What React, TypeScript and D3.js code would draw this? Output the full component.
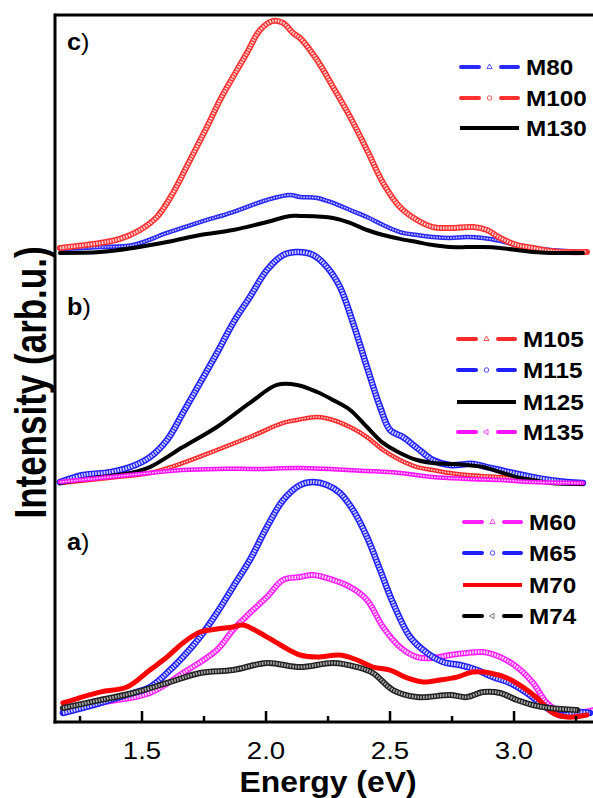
import React from 'react';
import * as d3 from 'd3';

type Pt = [number, number];

const energyTicks = [1.25, 1.5, 1.75, 2.0, 2.25, 2.5, 2.75, 3.0, 3.25];
const majorTicks = [1.5, 2.0, 2.5, 3.0];
const panelNames = ['a', 'b', 'c'];
const panelOffsets = [0, 1, 2];

// Panel c
const m100: Pt[] = [[1.169,0.022],[1.331,0.044],[1.411,0.062],[1.492,0.101],[1.56,0.158],[1.625,0.264],[1.694,0.409],[1.762,0.554],[1.815,0.673],[1.867,0.774],[1.923,0.879],[1.976,0.98],[2.028,1.02],[2.069,1.011],[2.109,0.967],[2.137,0.945],[2.206,0.848],[2.27,0.73],[2.339,0.598],[2.407,0.453],[2.472,0.308],[2.54,0.202],[2.609,0.145],[2.673,0.114],[2.742,0.11],[2.835,0.114],[2.891,0.101],[2.944,0.066],[3.012,0.035],[3.077,0.022],[3.145,0.009],[3.214,0.004],[3.294,0.004]];
const m80: Pt[] = [[1.169,0.018],[1.331,0.026],[1.464,0.035],[1.601,0.088],[1.734,0.136],[1.867,0.18],[2.004,0.233],[2.097,0.255],[2.137,0.246],[2.206,0.242],[2.27,0.22],[2.339,0.189],[2.407,0.158],[2.472,0.123],[2.54,0.092],[2.609,0.079],[2.673,0.07],[2.742,0.066],[2.81,0.07],[2.875,0.066],[2.944,0.053],[3.012,0.035],[3.145,0.013],[3.294,0.004]];
const m130: Pt[] = [[1.169,0.0],[1.331,0.004],[1.464,0.022],[1.601,0.048],[1.734,0.079],[1.867,0.101],[2.004,0.136],[2.097,0.163],[2.137,0.163],[2.27,0.154],[2.339,0.132],[2.407,0.101],[2.472,0.079],[2.54,0.062],[2.609,0.048],[2.673,0.035],[2.742,0.026],[2.81,0.026],[2.875,0.026],[2.944,0.022],[3.077,0.004],[3.145,0.0],[3.278,0.0]];
// Panel b
const m105: Pt[] = [[1.169,-0.011],[1.399,0.015],[1.532,0.033],[1.665,0.077],[1.802,0.134],[1.935,0.191],[2.069,0.253],[2.125,0.266],[2.206,0.279],[2.27,0.266],[2.339,0.235],[2.407,0.191],[2.472,0.134],[2.54,0.09],[2.609,0.059],[2.673,0.046],[2.742,0.033],[2.81,0.024],[2.944,0.015],[3.077,0.002],[3.214,-0.011],[3.278,-0.011]];
const m115: Pt[] = [[1.169,-0.007],[1.262,0.024],[1.371,0.037],[1.452,0.059],[1.532,0.103],[1.601,0.178],[1.665,0.297],[1.734,0.429],[1.802,0.56],[1.867,0.692],[1.935,0.807],[2.004,0.925],[2.069,0.991],[2.125,1.004],[2.19,0.991],[2.246,0.938],[2.298,0.851],[2.351,0.692],[2.407,0.499],[2.46,0.323],[2.5,0.222],[2.552,0.191],[2.609,0.143],[2.673,0.09],[2.742,0.068],[2.835,0.073],[2.891,0.059],[2.944,0.046],[3.077,0.015],[3.214,-0.007],[3.278,-0.011]];
const m125: Pt[] = [[1.169,-0.011],[1.331,0.015],[1.452,0.033],[1.532,0.059],[1.665,0.147],[1.802,0.235],[1.935,0.341],[2.044,0.42],[2.125,0.42],[2.206,0.389],[2.27,0.354],[2.339,0.31],[2.407,0.235],[2.472,0.165],[2.54,0.121],[2.609,0.09],[2.673,0.077],[2.742,0.073],[2.81,0.068],[2.875,0.059],[2.944,0.037],[3.012,0.015],[3.077,0.002],[3.145,-0.011],[3.278,-0.015]];
const m135: Pt[] = [[1.169,-0.007],[1.331,0.011],[1.532,0.033],[1.665,0.046],[1.802,0.051],[1.976,0.051],[2.137,0.055],[2.407,0.042],[2.54,0.033],[2.673,0.015],[2.81,0.007],[2.944,0.002],[3.077,-0.007],[3.278,-0.011]];
// Panel a
const m60: Pt[] = [[1.181,-0.018],[1.331,0.022],[1.532,0.066],[1.665,0.154],[1.802,0.255],[1.867,0.343],[1.935,0.418],[2.004,0.488],[2.069,0.563],[2.137,0.576],[2.19,0.585],[2.27,0.563],[2.339,0.532],[2.407,0.475],[2.472,0.356],[2.54,0.268],[2.609,0.224],[2.673,0.22],[2.742,0.233],[2.81,0.242],[2.875,0.246],[2.944,0.224],[3.012,0.18],[3.077,0.11],[3.133,0.022],[3.198,-0.022],[3.278,-0.018],[3.319,-0.009]];
const m65: Pt[] = [[1.181,-0.022],[1.331,0.022],[1.464,0.066],[1.532,0.092],[1.601,0.154],[1.665,0.224],[1.734,0.312],[1.802,0.418],[1.867,0.532],[1.935,0.651],[2.004,0.796],[2.069,0.914],[2.137,0.98],[2.19,0.993],[2.246,0.98],[2.298,0.945],[2.351,0.87],[2.407,0.752],[2.46,0.607],[2.512,0.462],[2.581,0.312],[2.649,0.242],[2.714,0.202],[2.782,0.189],[2.851,0.167],[2.915,0.136],[2.984,0.11],[3.052,0.066],[3.105,0.022],[3.185,-0.031],[3.254,-0.018],[3.306,-0.022]];
const m70: Pt[] = [[1.181,0.022],[1.331,0.07],[1.44,0.092],[1.532,0.167],[1.601,0.224],[1.665,0.286],[1.734,0.334],[1.802,0.347],[1.867,0.356],[1.907,0.365],[1.976,0.33],[2.044,0.286],[2.109,0.246],[2.137,0.233],[2.206,0.224],[2.298,0.233],[2.367,0.211],[2.431,0.18],[2.5,0.167],[2.569,0.132],[2.633,0.114],[2.702,0.123],[2.77,0.136],[2.835,0.158],[2.903,0.154],[2.972,0.132],[3.036,0.092],[3.093,0.044],[3.157,-0.022],[3.214,-0.04],[3.294,-0.031]];
const m74: Pt[] = [[1.181,0.0],[1.331,0.035],[1.464,0.066],[1.601,0.11],[1.734,0.154],[1.867,0.167],[2.004,0.198],[2.137,0.18],[2.27,0.198],[2.367,0.18],[2.431,0.154],[2.512,0.079],[2.609,0.048],[2.742,0.057],[2.81,0.048],[2.875,0.07],[2.944,0.066],[3.012,0.035],[3.077,0.013],[3.145,0.0],[3.254,-0.009]];

type Sym = 'none' | 'circle' | 'tri' | 'left';
interface Series { name: string; data: Pt[]; panel: number; color: string; inner: string; kind: 'solid' | 'open'; sym: Sym; w: number }

const seriesList: Series[] = [
  { name: 'M80', data: m80, panel: 2, color: '#2a2aff', inner: '#c8c8ff', kind: 'open', sym: 'tri', w: 4.5 },
  { name: 'M100', data: m100, panel: 2, color: '#ff3030', inner: '#ffd0d0', kind: 'open', sym: 'circle', w: 6 },
  { name: 'M130', data: m130, panel: 2, color: '#000000', inner: '', kind: 'solid', sym: 'none', w: 4 },
  { name: 'M105', data: m105, panel: 1, color: '#ff2a2a', inner: '#ffd0d0', kind: 'open', sym: 'tri', w: 4.5 },
  { name: 'M115', data: m115, panel: 1, color: '#2020ff', inner: '#d0d0ff', kind: 'open', sym: 'circle', w: 6.5 },
  { name: 'M125', data: m125, panel: 1, color: '#000000', inner: '', kind: 'solid', sym: 'none', w: 4 },
  { name: 'M135', data: m135, panel: 1, color: '#ff10ff', inner: '#ffd0ff', kind: 'open', sym: 'left', w: 4.5 },
  { name: 'M60', data: m60, panel: 0, color: '#ff20ff', inner: '#ffd8ff', kind: 'open', sym: 'tri', w: 6 },
  { name: 'M65', data: m65, panel: 0, color: '#2020ff', inner: '#d0d0ff', kind: 'open', sym: 'circle', w: 6.5 },
  { name: 'M70', data: m70, panel: 0, color: '#ff0000', inner: '', kind: 'solid', sym: 'none', w: 5 },
  { name: 'M74', data: m74, panel: 0, color: '#222222', inner: '#aaaaaa', kind: 'open', sym: 'left', w: 6 },
];

const W = 593, H = 798;
const FONT = 'Liberation Sans, Arial, sans-serif';

export default function App() {
  const x = d3.scaleLinear().domain([1.15, 3.32]).range([55.2, 593.4]);
  const y = d3.scaleLinear().domain([-0.0615, 3.046]).range([722, 15]);
  const line = (s: Series) =>
    d3.line<Pt>()
      .x(d => x(d[0]))
      .y(d => y(d[1] + panelOffsets[s.panel]))
      .curve(d3.curveCatmullRom.alpha(0.5))(s.data) || '';

  const legendPos = [
    { x0: 463, tx: 529, rows: [522, 553, 585, 616] },
    { x0: 457, tx: 523, rows: [339, 370, 402, 432] },
    { x0: 460, tx: 526, rows: [67, 98, 128] },
  ];
  const labelPos = [550, 315, 50];

  const symPath = (sym: Sym) => {
    if (sym === 'circle') return d3.symbol(d3.symbolCircle, 16)() || '';
    if (sym === 'tri') return d3.symbol(d3.symbolTriangle, 12)() || '';
    if (sym === 'left') return d3.symbol(d3.symbolTriangle, 12)() || '';
    return '';
  };

  return (
    <svg width={W} height={H} style={{ position: 'absolute', left: 0, top: 0, background: '#fff' }} fontFamily={FONT}>
      <rect x={0} y={0} width={W} height={H} fill="#fff" />
      {/* curves */}
      {seriesList.map(s => (
        <g key={s.name}>
          <path d={line(s)} fill="none" stroke={s.color} strokeWidth={s.w} strokeLinejoin="round" strokeLinecap="round" />
          {s.kind === 'open' && (
            <path d={line(s)} fill="none" stroke={s.inner} strokeWidth={s.w - 3} strokeDasharray="1.6 1.2" />
          )}
        </g>
      ))}
      {/* frame */}
      <line x1={55} x2={W} y1={15} y2={15} stroke="#000" strokeWidth={3} />
      <line x1={55} x2={55} y1={13.5} y2={723.5} stroke="#000" strokeWidth={3} />
      <line x1={53.5} x2={W} y1={722} y2={722} stroke="#000" strokeWidth={3} />
      {energyTicks.map(t => {
        const major = majorTicks.some(m => Math.abs(m - t) < 1e-6);
        return <line key={t} x1={x(t)} x2={x(t)} y1={722} y2={722 - (major ? 11 : 6)} stroke="#000" strokeWidth={2.5} />;
      })}
      {majorTicks.map(t => (
        <text key={t} transform={`translate(${x(t)},759) scale(1.15,1)`} textAnchor="middle" fontSize={24}>{t.toFixed(1)}</text>
      ))}
      <text transform={`translate(328,792) scale(1.1,1)`} textAnchor="middle" fontSize={29} fontWeight="bold">Energy (eV)</text>
      <text transform={`translate(46,382.5) scale(1.25,1) rotate(-90)`} textAnchor="middle" fontSize={35} fontWeight="bold">Intensity (arb.u.)</text>
      {/* panel labels */}
      {panelNames.map((n, i) => (
        <text key={n} transform={`translate(67,${labelPos[i]}) scale(1.1,1)`} fontSize={23}>
          <tspan fontWeight="bold">{n}</tspan><tspan>)</tspan>
        </text>
      ))}
      {/* legends */}
      {panelNames.map((n, p) => {
        const items = seriesList.filter(s => s.panel === p);
        const lp = legendPos[p];
        return (
          <g key={n}>
            {items.map((s, i) => {
              const ry = lp.rows[i];
              const col = s.kind === 'solid' ? s.color : (s.color === '#222222' ? '#000' : s.color);
              return (
                <g key={s.name}>
                  {s.kind === 'solid' ? (
                    <line x1={lp.x0} x2={lp.x0 + 59} y1={ry} y2={ry} stroke={col} strokeWidth={4} />
                  ) : (
                    <>
                      <line x1={lp.x0 + 1} x2={lp.x0 + 19} y1={ry} y2={ry} stroke={col} strokeWidth={4} strokeLinecap="round" />
                      <line x1={lp.x0 + 41} x2={lp.x0 + 58} y1={ry} y2={ry} stroke={col} strokeWidth={4} strokeLinecap="round" />
                      <path d={symPath(s.sym)} transform={`translate(${lp.x0 + 29.5},${ry}) rotate(${s.sym === 'left' ? -90 : 0})`} fill="none" stroke={s.color === '#222222' ? '#555' : s.color} strokeWidth={0.8} />
                    </>
                  )}
                  <text transform={`translate(${lp.tx},${ry + 8}) scale(1.08,1)`} fontSize={22.5} fontWeight="bold">{s.name}</text>
                </g>
              );
            })}
          </g>
        );
      })}
    </svg>
  );
}
